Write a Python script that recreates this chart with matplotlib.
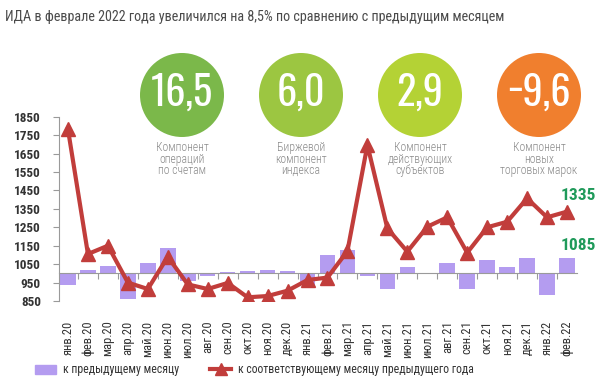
import matplotlib
matplotlib.use("Agg")
import matplotlib.pyplot as plt
import numpy as np
from matplotlib.patches import Circle, Patch
from matplotlib.lines import Line2D

plt.rcParams['font.family'] = ['Roboto Condensed', 'DejaVu Sans']

# Данные
meses = ['янв.20', 'фев.20', 'мар.20', 'апр.20', 'май.20', 'июн.20', 'июл.20', 'авг.20',
         'сен.20', 'окт.20', 'ноя.20', 'дек.20', 'янв.21', 'фев.21', 'мар.21', 'апр.21',
         'май.21', 'июн.21', 'июл.21', 'авг.21', 'сен.21', 'окт.21', 'ноя.21', 'дек.21',
         'янв.22', 'фев.22']
к_пред_месяцу = [935, 1016, 1040, 860, 1058, 1135, 960, 985, 1005, 1012, 1018, 1014,
                 935, 1099, 1128, 987, 917, 1032, 1002, 1058, 917, 1072, 1034, 1085,
                 881, 1085]
к_пред_году = [1781, 1105, 1150, 950, 915, 1090, 940, 915, 948, 870, 877, 906,
               964, 977, 1121, 1696, 1244, 1118, 1253, 1304, 1112, 1250, 1280, 1407,
               1304, 1335]

компоненты = ['16,5', '6,0', '2,9', '−9,6']
подписи = ['Компонент\nопераций\nпо счетам', 'Биржевой\nкомпонент\nиндекса',
           'Компонент\nдействующих\nсубъектов', 'Компонент\nновых\nторговых марок']
цвета_кругов = ['#7bb84a', '#9cc641', '#b4d235', '#f07f2e']

cor_barra = '#b49cf0'
cor_linha = '#c13d3b'
cinza = '#9a9a9a'

fig = plt.figure(figsize=(6, 3.89), dpi=100)

# Слой для кругов и подписей в пиксельных координатах
over = fig.add_axes([0, 0, 1, 1], zorder=0)
over.set_xlim(0, 600)
over.set_ylim(389, 0)
over.axis('off')

centros_x = [182, 301, 420, 539]
for cx, val, lab, c in zip(centros_x, компоненты, подписи, цвета_кругов):
    over.add_patch(Circle((cx, 95), 42, color=c, lw=0))
    over.text(cx, 93, val, color='white', fontsize=29, fontweight='light',
              family=['Oswald', 'Roboto Condensed'], ha='center', va='center')
    over.text(cx, 159, lab, color='#8a8a8a', fontsize=8.5, fontweight='light',
              ha='center', va='center', linespacing=0.85)

over.text(5, 17, 'ИДА в феврале 2022 года увеличился на 8,5% по сравнению с предыдущим месяцем',
          fontsize=10.2, color='#4a4a4a', ha='left', va='center')

ax = fig.add_axes([59 / 600, 1 - 301 / 389, 518 / 600, (301 - 116.7) / 389], zorder=1)
ax.patch.set_alpha(0)

x = np.arange(len(meses))
ax.bar(x, np.array(к_пред_месяцу) - 1000, bottom=1000, width=0.78, color=cor_barra, zorder=1)
ax.plot(x, к_пред_году, color=cor_linha, lw=3, marker='^', markersize=10,
        solid_joinstyle='round', zorder=3)

ax.set_xlim(-0.45, 25.5)
ax.set_ylim(850, 1850)
ax.set_yticks(np.arange(850, 1851, 100))
ax.tick_params(axis='y', labelsize=9.5, colors='#333333', length=4, pad=9, width=0.8)
for t in ax.get_yticklabels():
    t.set_fontweight('bold')
ax.tick_params(axis='y', color=cinza)

for s in ['top', 'right']:
    ax.spines[s].set_visible(False)
ax.spines['left'].set_color(cinza)
ax.spines['bottom'].set_color(cinza)
ax.spines['bottom'].set_position(('data', 1000))

ax.set_xticks(x)
ax.set_xticklabels(meses, rotation=90, fontsize=9, color='#333333', va='top')
ax.tick_params(axis='x', which='major', length=0, pad=34)
ax.set_xticks(x[:-1] + 0.5, minor=True)
ax.tick_params(axis='x', which='minor', length=4, color=cinza, width=0.8)

ax.text(25.55, 1335 + 85, str(к_пред_году[-1]), color='#1f9a5a', fontsize=12.5,
        fontweight='bold', ha='center', va='center')
ax.text(25.55, 1085 + 65, str(к_пред_месяцу[-1]), color='#1f9a5a', fontsize=12.5,
        fontweight='bold', ha='center', va='center')

handles = [Patch(color=cor_barra),
           Line2D([], [], color=cor_linha, lw=3, marker='^', markersize=8)]
fig.legend(handles, ['к предыдущему месяцу', 'к соответствующему месяцу предыдущего года'],
           loc='center left', bbox_to_anchor=(35 / 600, 1 - 370 / 389), ncol=2, frameon=False,
           fontsize=8.5, handlelength=1.8, handletextpad=0.6, columnspacing=2.6,
           borderaxespad=0, borderpad=0, labelcolor='#333333')

fig.savefig('out.png', dpi=100)
